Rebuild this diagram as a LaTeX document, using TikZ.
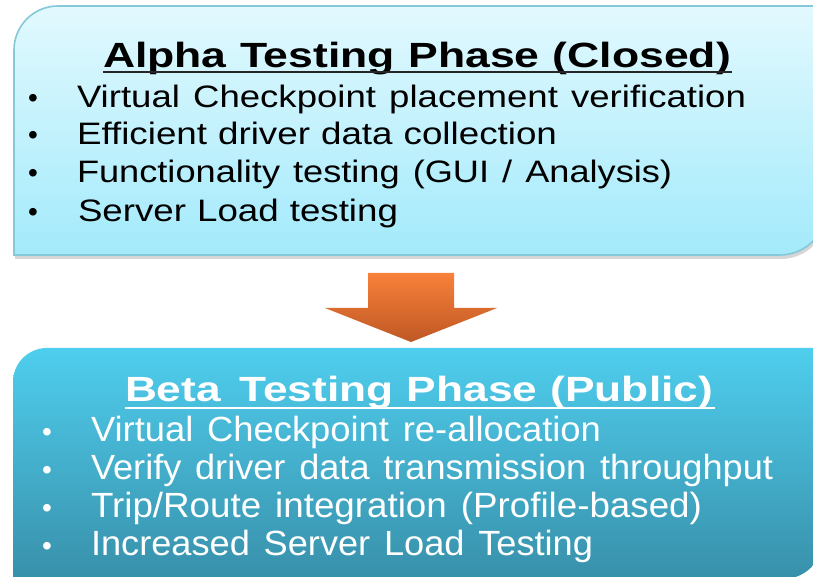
\documentclass[tikz,border=0pt]{standalone}
\usepackage{fontspec}
\setmainfont{Liberation Sans}
\usepackage{graphicx}
\usetikzlibrary{calc}

\definecolor{alphaTop}{HTML}{E2F9FE}
\definecolor{alphaBot}{HTML}{A3EAFB}
\definecolor{alphaEdge}{HTML}{84C8DA}
\definecolor{betaTop}{HTML}{4FCEEE}
\definecolor{betaBot}{HTML}{3890AA}
\definecolor{arrowTop}{HTML}{F8813A}
\definecolor{arrowBot}{HTML}{BF5824}

% set a line with a given word gap, stretched horizontally to a given width
\newcommand{\fitw}[3]{\resizebox{#1}{\height}{\spaceskip=#2\relax #3}}

% outlines of the two phase panels (one rounded corner top left, one bottom right)
\def\alphashape{(14,322) -- (14,527) arc[start angle=180,end angle=90,radius=44pt]
  -- (826,571) -- (826,368) arc[start angle=0,end angle=-90,radius=46pt] -- cycle}
\def\betashape{(13,-2) -- (13,195) arc[start angle=180,end angle=90,radius=34pt]
  -- (823,229) -- (823,38) arc[start angle=0,end angle=-90,radius=40pt] -- cycle}

\tikzset{
  linetext/.style={anchor=base west, inner sep=0pt, outer sep=0pt},
  alphahead/.style={linetext, text=black, font=\bfseries\fontsize{35}{40}\selectfont},
  alphaitem/.style={linetext, text=black, font=\fontsize{31}{36}\selectfont},
  betahead/.style={linetext, text=white, font=\bfseries\fontsize{35}{40}\selectfont},
  betaitem/.style={linetext, text=white, font=\fontsize{35}{40}\selectfont},
  bulletmark/.style={anchor=base, inner sep=0pt, font=\fontsize{28}{32}\selectfont},
  headrule/.style={line width=2.2pt},
}

\begin{document}
\begin{tikzpicture}[x=1pt,y=1pt]
\useasboundingbox (0,0) rectangle (813,577);
\clip (0,0) rectangle (813,577);
\fill[white] (0,0) rectangle (813,577);

% --- Alpha panel ---
\fill[black,opacity=0.16,shift={(1pt,-4pt)}] \alphashape;
\shade[top color=alphaTop,bottom color=alphaBot] \alphashape;
\draw[alphaEdge,line width=1.6pt] \alphashape;

\node[alphahead] (ahead) at (103,509) {\fitw{628pt}{0.3em}{Alpha Testing Phase (Closed)}};
\draw[headrule,black!85] ($(ahead.base west)+(0,-4)$) -- ($(ahead.base east)+(1,-4)$);

\node[alphaitem] (a1) at (77,469) {\fitw{669pt}{0.36em}{Virtual Checkpoint placement verification}};
\node[alphaitem] (a2) at (77,432) {\fitw{480pt}{0.3em}{Efficient driver data collection}};
\node[alphaitem] (a3) at (77,394) {\fitw{595pt}{0.36em}{Functionality testing (GUI / Analysis)}};
\node[alphaitem] (a4) at (78,355) {\fitw{320pt}{0.3em}{Server Load testing}};
\foreach \y/\n in {469/1,432/2,394/3,355/4}
  \node[bulletmark,text=black] (ab\n) at (33,\y) {•};

% --- transition arrow ---
\shade[top color=arrowTop,bottom color=arrowBot]
  (368,304) -- (454,304) -- (454,269) -- (497,269) -- (411,235)
  -- (325,269) -- (368,269) -- cycle;

% --- Beta panel ---
\shade[top color=betaTop,bottom color=betaBot] \betashape;

\node[betahead] (bhead) at (125,175) {\fitw{588pt}{0.3em}{Beta\hspace{0.12em} Testing Phase (Public)}};
\draw[headrule,white] ($(bhead.base west)+(0,-6)$) -- ($(bhead.base east)+(2,-6)$);

\node[betaitem] (b1) at (91,135) {\fitw{510pt}{0.38em}{Virtual Checkpoint re-allocation}};
\node[betaitem] (b2) at (91,97) {\fitw{682pt}{0.38em}{Verify driver data transmission throughput}};
\node[betaitem] (b3) at (91,59) {\fitw{611pt}{0.38em}{Trip/Route integration (Profile-based)}};
\node[betaitem] (b4) at (91,21) {\fitw{502pt}{0.38em}{Increased Server Load Testing}};
\foreach \y/\n in {135/1,97/2,59/3,21/4}
  \node[bulletmark,text=white] (bb\n) at (47,\y) {•};
\end{tikzpicture}
\end{document}
